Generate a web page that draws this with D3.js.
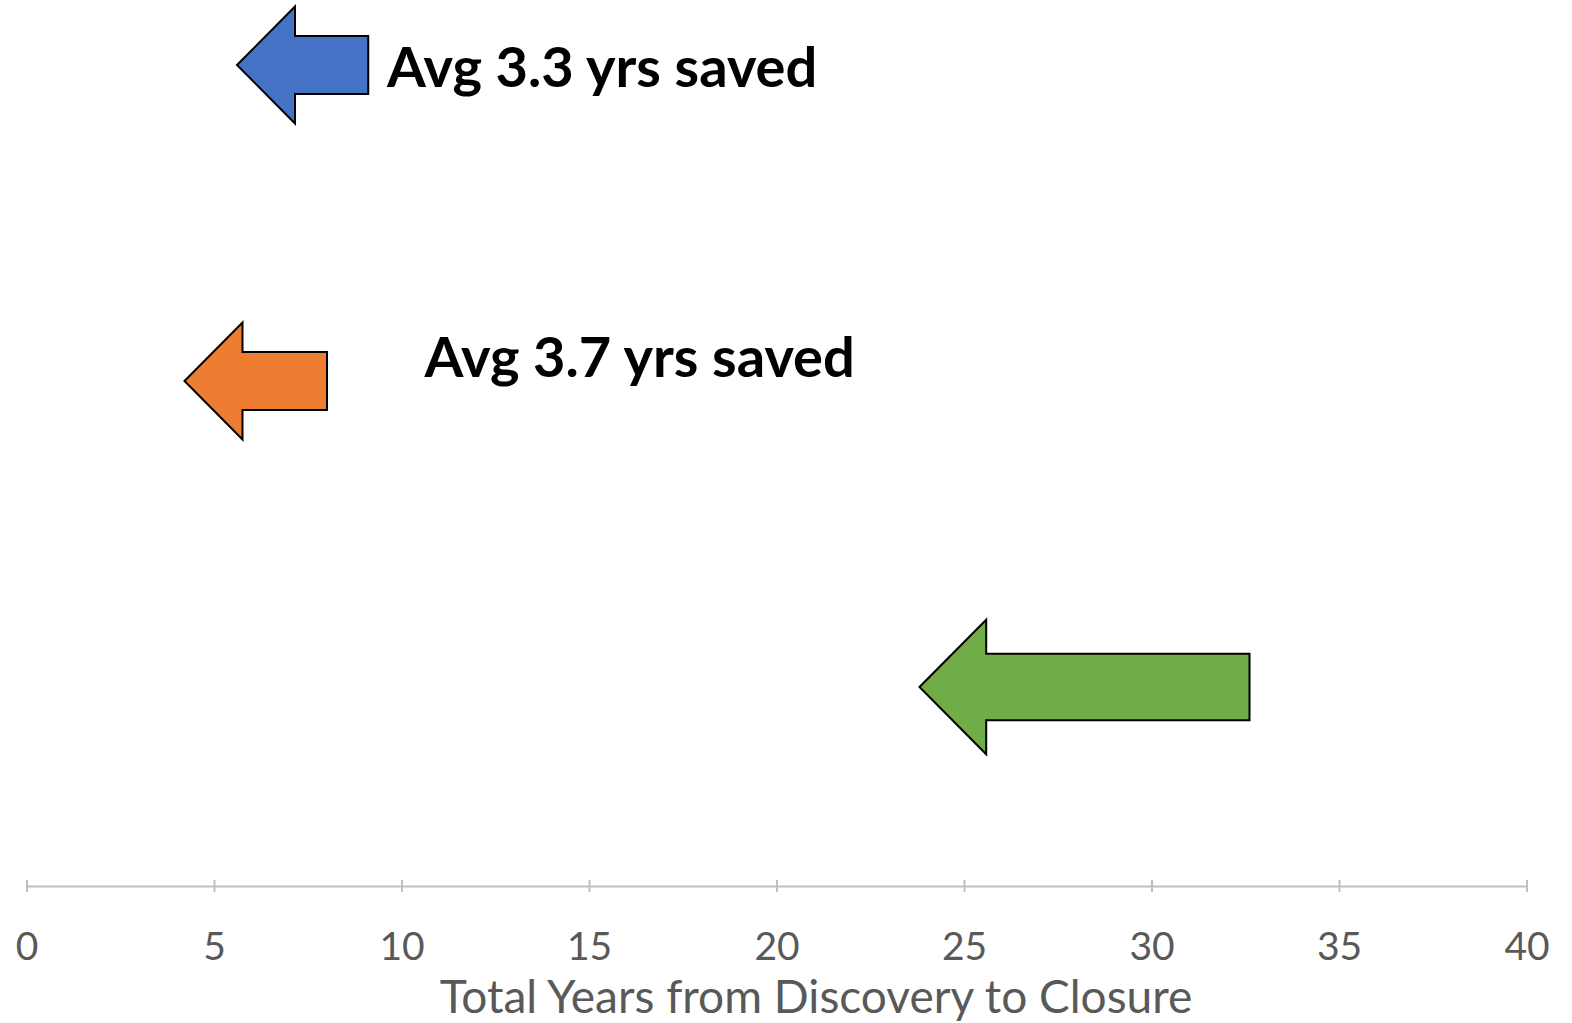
<!DOCTYPE html>
<html>
<head>
<meta charset="utf-8">
<script src="https://cdn.jsdelivr.net/npm/d3@7"></script>
<style>
  body { margin: 0; background: #fff; }
</style>
</head>
<body>
<div id="chart"></div>
<script>
// data
var groups = ["Group A", "Group B", "Group C"];
var fromYears = [9.1, 8.0, 32.6];   // tail of arrow
var toYears = [5.6, 4.2, 23.8];     // tip of arrow
var labels = ["Avg 3.3 yrs saved", "Avg 3.7 yrs saved", ""];
var labelYears = [9.6, 10.6, 0];
var xTicks = [0, 5, 10, 15, 20, 25, 30, 35, 40];

// styles
var colors = ["#4472C4", "#ED7D31", "#70AD47"];
var arrowSize = [1, 1, 1.15];
var labelDy = [2, -24, 0];

var w = 1572;
var h = 1023;

var svg = d3.select("#chart")
            .append("svg")
            .attr("width", w)
            .attr("height", h);

var x = d3.scaleLinear()
          .domain([0, 40])
          .range([27, 1527]);

// rows are not evenly spaced in the original
var y = d3.scaleOrdinal()
          .domain(groups)
          .range([65, 381, 687]);

// axis
var axisY = 886;
var axis = svg.append("g")
   .attr("transform", "translate(0," + axisY + ")")
   .call(d3.axisBottom(x).tickValues(xTicks).tickSize(0).tickFormat(""));
axis.select(".domain").attr("stroke", "#BFBFBF").attr("stroke-width", 2);

svg.selectAll("line.tick")
   .data(xTicks)
   .enter()
   .append("line")
   .attr("class", "tick")
   .attr("x1", function(d) { return x(d); })
   .attr("x2", function(d) { return x(d); })
   .attr("y1", axisY - 6)
   .attr("y2", axisY + 6)
   .attr("stroke", "#BFBFBF")
   .attr("stroke-width", 2);

svg.selectAll("text.tickLabel")
   .data(xTicks)
   .enter()
   .append("text")
   .attr("class", "tickLabel")
   .text(function(d) { return d; })
   .attr("x", function(d) { return x(d); })
   .attr("y", 960)
   .attr("font-family", "Lato, sans-serif")
   .attr("font-size", "39px")
   .attr("fill", "#595959")
   .attr("text-anchor", "middle");

svg.append("text")
   .text("Total Years from Discovery to Closure")
   .attr("x", 816)
   .attr("y", 1013)
   .attr("font-family", "Lato, sans-serif")
   .attr("font-size", "46px")
   .attr("fill", "#595959")
   .attr("text-anchor", "middle");

// arrows
function arrowPath(i) {
  var s = arrowSize[i];
  var cy = y(groups[i]);
  var tip = x(toYears[i]);
  var tail = x(fromYears[i]);
  var headLen = 58 * s;
  var headH = 58.5 * s;
  var shaftH = 29 * s;
  var neck = tip + headLen;
  return "M" + tip + "," + cy +
         "L" + neck + "," + (cy - headH) +
         "L" + neck + "," + (cy - shaftH) +
         "L" + tail + "," + (cy - shaftH) +
         "L" + tail + "," + (cy + shaftH) +
         "L" + neck + "," + (cy + shaftH) +
         "L" + neck + "," + (cy + headH) + "Z";
}

svg.selectAll("path.arrow")
   .data(groups)
   .enter()
   .append("path")
   .attr("class", "arrow")
   .attr("d", function(d, i) { return arrowPath(i); })
   .attr("fill", function(d, i) { return colors[i]; })
   .attr("stroke", "#000")
   .attr("stroke-width", 2)
   .attr("stroke-linejoin", "miter");

svg.selectAll("text.note")
   .data(labels)
   .enter()
   .append("text")
   .attr("class", "note")
   .text(function(d) { return d; })
   .attr("x", function(d, i) { return x(labelYears[i]); })
   .attr("y", function(d, i) { return y(groups[i]) + labelDy[i]; })
   .attr("dy", "0.35em")
   .attr("font-family", "Lato, sans-serif")
   .attr("font-weight", "bold")
   .attr("font-size", "56px")
   .attr("fill", "#000");
</script>
</body>
</html>
